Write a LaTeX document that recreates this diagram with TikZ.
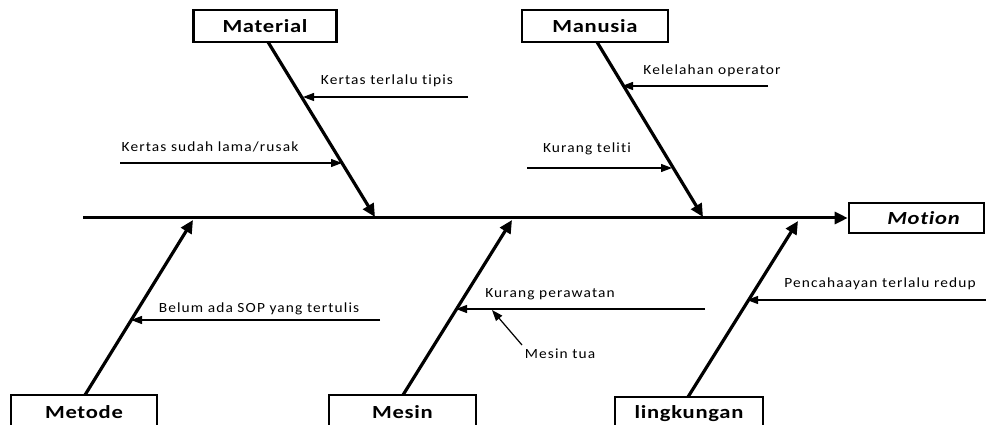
\documentclass[tikz,border=0pt]{standalone}
\usepackage{fontspec}
\setmainfont{Carlito}[Ligatures=NoCommon]
\newfontfamily\lblfont{Carlito}[FakeStretch=1.1,LetterSpace=8,Ligatures=NoCommon]
\newfontfamily\catfont{Carlito}[FakeStretch=1.22,LetterSpace=4,Ligatures=NoCommon]
\usetikzlibrary{arrows.meta,calc}
\begin{document}
\begin{tikzpicture}[x=1pt,y=-1pt,
  catbox/.style={draw,line width=2.6pt,minimum height=32pt,inner sep=0pt,font=\catfont\fontsize{18.5}{20}\selectfont\bfseries},
  bone/.style={line width=3.2pt,-{Triangle[length=13pt,width=12pt]}},
  spine/.style={line width=3pt,-{Triangle[length=13pt,width=12pt]}},
  sub/.style={line width=1.2pt,-{Triangle[length=11pt,width=8pt]}},
  lbl/.style={inner sep=0pt,font=\lblfont\fontsize{14}{16}\selectfont}]
\useasboundingbox (0,0) rectangle (986,425);
% category boxes
\node[catbox,minimum width=143pt] (mat) at (265,26) {Material};
\node[catbox,minimum width=146pt] (man) at (595,26) {Manusia};
\node[catbox,minimum width=135pt,minimum height=30pt] (mot) at (916.5,218) {\hspace*{14pt}\itshape Motion};
\node[catbox,minimum width=146pt,minimum height=34pt] (met) at (84,412) {Metode};
\node[catbox,minimum width=147pt,minimum height=34pt] (mes) at (402.5,412) {Mesin};
\node[catbox,minimum width=148pt,minimum height=34pt] (lin) at (689,414) {lingkungan};
% spine
\coordinate (s0) at (83,218);
\draw[spine] (s0) -- (mot.west);
% bone ends on spine
\coordinate (bmat) at (375,217);
\coordinate (bman) at (703,217);
\coordinate (bmet) at (193,220);
\coordinate (bmes) at (512,220);
\coordinate (blin) at (798,221);
\coordinate (tmat) at (268,42);
\coordinate (tman) at (597,42);
\coordinate (tmet) at (85,395);
\coordinate (tmes) at (403,395);
\coordinate (tlin) at (688,397);
\draw[bone] (tmat) -- (bmat);
\draw[bone] (tman) -- (bman);
\draw[bone] (tmet) -- (bmet);
\draw[bone] (tmes) -- (bmes);
\draw[bone] (tlin) -- (blin);
% sub causes
\coordinate (a1s) at (468,97);   \coordinate (a1e) at (303,97);
\coordinate (a2s) at (120,163);  \coordinate (a2e) at (342,163);
\coordinate (a3s) at (768,86);   \coordinate (a3e) at (622,86);
\coordinate (a4s) at (527,168);  \coordinate (a4e) at (672,168);
\coordinate (a5s) at (380,320);  \coordinate (a5e) at (131,320);
\coordinate (a6s) at (705,309);  \coordinate (a6e) at (456,309);
\coordinate (a8s) at (986,300);  \coordinate (a8e) at (747,300);
\draw[sub] (a1s) -- (a1e);
\draw[sub] (a2s) -- (a2e);
\draw[sub] (a3s) -- (a3e);
\draw[sub] (a4s) -- (a4e);
\draw[sub] (a5s) -- (a5e);
\draw[sub] (a6s) -- (a6e);
\draw[sub] (a8s) -- (a8e);
\node[lbl] (l1) at (387,81) {Kertas terlalu tipis};
\node[lbl] (l2) at (210,147) {Kertas sudah lama/rusak};
\node[lbl] (l3) at (712,71) {Kelelahan operator};
\node[lbl] (l4) at (587,149) {Kurang teliti};
\node[lbl] (l5) at (259,309) {Belum ada SOP yang tertulis};
\node[lbl] (l6) at (550,294) {Kurang perawatan};
\node[lbl] (l7) at (560,354) {Mesin tua};
\node[lbl] (l8) at (880,284) {Pencahaayan terlalu redup};
\coordinate (a7s) at (522,345);
\coordinate (a7e) at (492,310);
\draw[sub] (a7s) -- (a7e);
\end{tikzpicture}
\end{document}
